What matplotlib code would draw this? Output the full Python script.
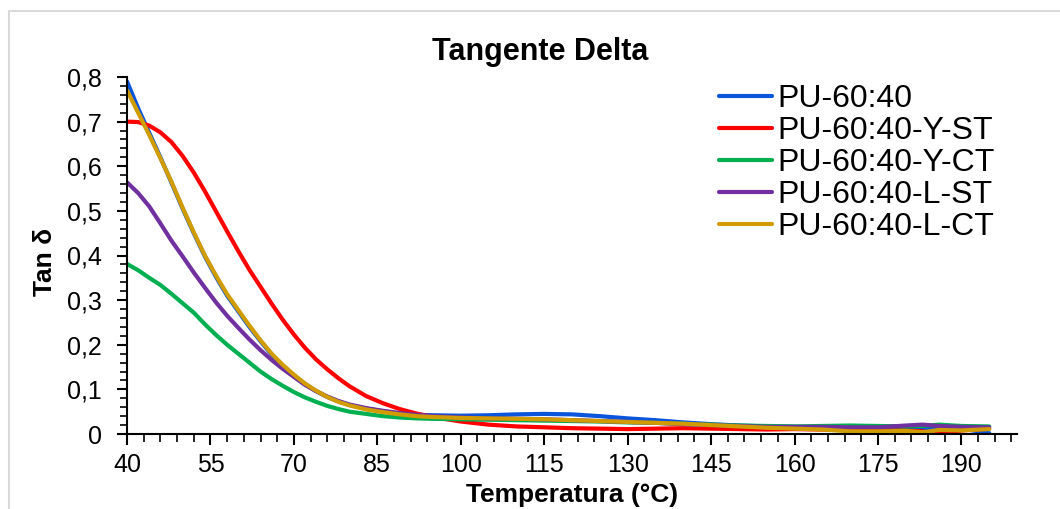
import matplotlib
matplotlib.use("Agg")
import matplotlib.pyplot as plt
from matplotlib.ticker import MultipleLocator, FuncFormatter
from matplotlib.patches import Rectangle

plt.rcParams['font.family'] = ['Liberation Sans', 'DejaVu Sans']

# Temperature (°C)
temp = [40, 42, 44, 46, 48, 50, 52, 54, 56, 58, 60, 62, 64, 66, 68, 70, 72, 74, 76, 78,
        80, 83, 86, 89, 92, 95, 100, 105, 110, 115, 120, 125, 130, 135, 140, 145, 150,
        155, 160, 165, 170, 175, 180, 183, 186, 190, 195]

pu_60_40 = [0.790, 0.730, 0.675, 0.620, 0.563, 0.505, 0.450, 0.398, 0.352, 0.310, 0.275,
            0.240, 0.208, 0.178, 0.153, 0.131, 0.112, 0.096, 0.083, 0.073, 0.065, 0.057,
            0.051, 0.046, 0.043, 0.042, 0.041, 0.042, 0.044, 0.045, 0.044, 0.040, 0.035,
            0.031, 0.026, 0.022, 0.019, 0.017, 0.016, 0.015, 0.014, 0.013, 0.012, 0.013,
            0.014, 0.012, 0.002]

pu_y_st = [0.700, 0.699, 0.691, 0.676, 0.654, 0.623, 0.586, 0.544, 0.499, 0.454, 0.410,
           0.368, 0.330, 0.292, 0.256, 0.223, 0.193, 0.167, 0.145, 0.125, 0.107, 0.085,
           0.069, 0.056, 0.046, 0.038, 0.028, 0.021, 0.017, 0.015, 0.013, 0.012, 0.011,
           0.012, 0.013, 0.012, 0.011, 0.010, 0.011, 0.010, 0.009, 0.009, 0.008, 0.006,
           0.000, 0.008, 0.012]

pu_y_ct = [0.381, 0.367, 0.350, 0.334, 0.314, 0.293, 0.272, 0.246, 0.222, 0.200, 0.180,
           0.160, 0.140, 0.123, 0.108, 0.094, 0.082, 0.072, 0.063, 0.056, 0.050, 0.045,
           0.040, 0.037, 0.035, 0.034, 0.033, 0.032, 0.031, 0.030, 0.029, 0.028, 0.026,
           0.025, 0.023, 0.021, 0.019, 0.018, 0.017, 0.018, 0.019, 0.018, 0.017, 0.018,
           0.021, 0.018, 0.017]

pu_l_st = [0.564, 0.540, 0.510, 0.472, 0.433, 0.398, 0.362, 0.328, 0.295, 0.265, 0.238,
           0.212, 0.188, 0.166, 0.146, 0.128, 0.110, 0.096, 0.084, 0.074, 0.066, 0.058,
           0.052, 0.047, 0.043, 0.040, 0.037, 0.035, 0.034, 0.033, 0.031, 0.029, 0.027,
           0.025, 0.022, 0.020, 0.018, 0.016, 0.016, 0.016, 0.015, 0.015, 0.019, 0.021,
           0.018, 0.016, 0.015]

pu_l_ct = [0.770, 0.720, 0.670, 0.618, 0.565, 0.507, 0.452, 0.400, 0.355, 0.313, 0.278,
           0.243, 0.210, 0.180, 0.155, 0.133, 0.113, 0.097, 0.083, 0.072, 0.064, 0.055,
           0.049, 0.044, 0.040, 0.038, 0.036, 0.035, 0.034, 0.033, 0.031, 0.029, 0.027,
           0.025, 0.023, 0.020, 0.017, 0.014, 0.012, 0.010, 0.006, 0.006, 0.007, 0.004,
           0.009, 0.008, 0.011]

series_labels = ["PU-60:40", "PU-60:40-Y-ST", "PU-60:40-Y-CT", "PU-60:40-L-ST", "PU-60:40-L-CT"]
series_values = [pu_60_40, pu_y_st, pu_y_ct, pu_l_st, pu_l_ct]
colors = ["#0A55DC", "#FF0000", "#00B050", "#7030A0", "#D09C00"]

fig = plt.figure(figsize=(10.6, 5.09), dpi=100)
fig.patches.append(Rectangle((9 / 1060, -0.1), 1.2, 1 - 11 / 509 + 0.1,
                             transform=fig.transFigure, fill=False,
                             edgecolor="#D9D9D9", linewidth=1.5))
ax = fig.add_axes([127 / 1060, 1 - 434 / 509, (1017 - 127) / 1060, (434 - 77) / 509])

for lab, vals, c in zip(series_labels, series_values, colors):
    ax.plot(temp, vals, color=c, linewidth=3.0, label=lab, solid_capstyle='round')

ax.set_xlim(40, 200)
ax.set_ylim(0, 0.8)
ax.xaxis.set_major_locator(MultipleLocator(15, offset=10))
ax.xaxis.set_minor_locator(MultipleLocator(3, offset=1))
ax.yaxis.set_major_locator(MultipleLocator(0.1))
ax.yaxis.set_minor_locator(MultipleLocator(0.02))
ax.yaxis.set_major_formatter(FuncFormatter(lambda v, p: "0" if abs(v) < 1e-9 else f"{v:.1f}".replace(".", ",")))

for s in ["top", "right"]:
    ax.spines[s].set_visible(False)
for s in ["left", "bottom"]:
    ax.spines[s].set_linewidth(1.5)
    ax.spines[s].set_color("black")

ax.tick_params(axis='x', which='major', direction='out', length=8, width=1.5, labelsize=18, pad=6)
ax.tick_params(axis='x', which='minor', direction='out', length=6, width=1.2)
ax.tick_params(axis='y', which='major', direction='out', length=7, width=1.5, labelsize=18, pad=11)
ax.tick_params(axis='y', which='minor', direction='out', length=5, width=1.2)

ax.set_xlabel("Temperatura (°C)", fontsize=19, fontweight='bold')
ax.xaxis.set_label_coords(0.5, (434 - 483) / 357)
ax.set_ylabel("Tan δ", fontsize=19, fontweight='bold')
ax.yaxis.set_label_coords((57 - 127) / 890, (434 - 262) / 357)
fig.text(540 / 1060, 1 - 52 / 509, "Tangente Delta", fontsize=22, fontweight='bold',
         ha='center', va='center')

leg = ax.legend(loc='upper left', bbox_to_anchor=((719 - 127) / 890, (434 - 84) / 357),
                frameon=False, fontsize=23, handlelength=1.66, handletextpad=0.16,
                labelspacing=0.065, borderaxespad=0, borderpad=0)

fig.savefig("out.png", dpi=100)
